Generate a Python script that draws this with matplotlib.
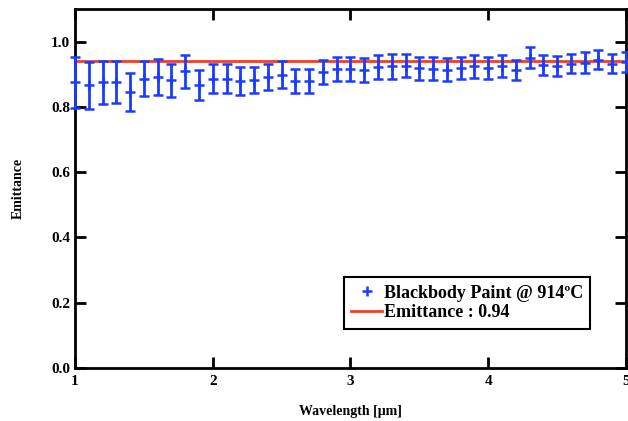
import matplotlib
matplotlib.use('Agg')
from matplotlib import pyplot as plt
from matplotlib.lines import Line2D

plt.rcParams['font.family'] = ['Liberation Serif', 'DejaVu Serif']
plt.rcParams['font.weight'] = 'bold'

# wavelength in micrometres, 1.0 to 5.0 in steps of 0.1
wavelength = [1.0, 1.1, 1.2, 1.3, 1.4, 1.5, 1.6, 1.7, 1.8, 1.9,
              2.0, 2.1, 2.2, 2.3, 2.4, 2.5, 2.6, 2.7, 2.8, 2.9,
              3.0, 3.1, 3.2, 3.3, 3.4, 3.5, 3.6, 3.7, 3.8, 3.9,
              4.0, 4.1, 4.2, 4.3, 4.4, 4.5, 4.6, 4.7, 4.8, 4.9, 5.0]
emittance = [0.875, 0.866, 0.875, 0.877, 0.847, 0.886, 0.893, 0.881, 0.909, 0.867,
             0.887, 0.886, 0.880, 0.883, 0.892, 0.899, 0.880, 0.880, 0.908, 0.917,
             0.915, 0.912, 0.922, 0.924, 0.926, 0.919, 0.917, 0.914, 0.919, 0.924,
             0.919, 0.926, 0.912, 0.951, 0.929, 0.926, 0.933, 0.936, 0.945, 0.933, 0.937]
error = [0.079, 0.071, 0.067, 0.064, 0.058, 0.054, 0.055, 0.052, 0.050, 0.046,
         0.044, 0.044, 0.042, 0.040, 0.039, 0.041, 0.037, 0.037, 0.037, 0.037,
         0.037, 0.037, 0.037, 0.038, 0.035, 0.035, 0.035, 0.035, 0.034, 0.034,
         0.034, 0.033, 0.031, 0.033, 0.031, 0.031, 0.030, 0.031, 0.030, 0.030, 0.031]
fit_value = 0.94

blue = '#1a3cff'
red = '#ff3a1a'

fig = plt.figure(figsize=(6.28, 4.21), dpi=100)
ax = fig.add_axes([0.1194, 0.1259, 0.8774, 0.8527])

ax.axhline(fit_value, color=red, lw=2, zorder=2)
ax.errorbar(wavelength, emittance, yerr=error, fmt='+', color=blue,
            ms=7, mew=1.8, elinewidth=2, capsize=3.5, capthick=2,
            zorder=3, clip_on=False)

ax.set_xlim(1, 5)
ax.set_ylim(0, 1.1)
ax.set_xticks([1, 2, 3, 4, 5])
ax.set_yticks([0.0, 0.2, 0.4, 0.6, 0.8, 1.0])
ax.set_yticklabels(['0.0', '0.2', '0.4', '0.6', '0.8', '1.0'])
ax.tick_params(direction='in', length=8, width=2, top=True, right=True,
               labelsize=11)
ax.tick_params(axis='x', pad=5)
for lbl in ax.get_xticklabels() + ax.get_yticklabels():
    lbl.set_fontweight('bold')
for s in ax.spines.values():
    s.set_linewidth(2)

ax.set_xlabel('Wavelength [\u03bcm]', fontsize=10, fontweight='bold', labelpad=12)
ax.set_ylabel('Emittance', fontsize=10, fontweight='bold', labelpad=19)

handles = [Line2D([], [], color=blue, marker='+', ls='none', ms=7, mew=1.8),
           Line2D([], [], color=red, lw=2)]
leg = ax.legend(handles, ['Blackbody Paint @ 914\u00baC', 'Emittance : 0.94'],
                loc='lower right', bbox_to_anchor=(0.935, 0.11),
                fancybox=False, edgecolor='black', framealpha=1,
                prop={'weight': 'bold', 'size': 13}, handlelength=1.7,
                handletextpad=0.1, borderpad=0.4, labelspacing=0.15,
                borderaxespad=0)
leg.get_frame().set_linewidth(1.5)

fig.savefig('out.png', dpi=100)
